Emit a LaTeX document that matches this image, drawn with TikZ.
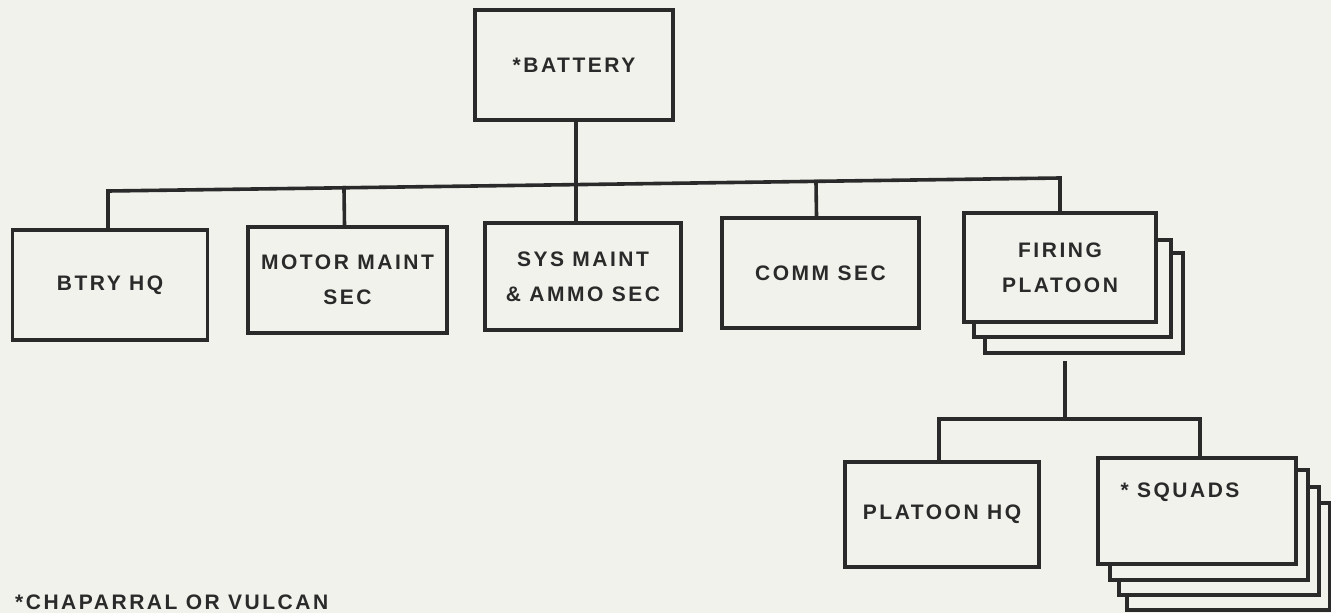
\documentclass[tikz,border=0pt]{standalone}
\usepackage{fontspec}
\setmainfont{Liberation Sans}[LetterSpace=12]
\usetikzlibrary{calc}
\definecolor{paper}{RGB}{242,242,236}
\definecolor{ink}{RGB}{42,42,42}
\begin{document}
\begin{tikzpicture}[x=1pt,y=-1pt,
  unit/.style={draw=ink, line width=3.6pt, fill=paper, inner sep=0pt,
    minimum width=197pt, minimum height=108pt, align=center,
    text=ink, font=\bfseries\fontsize{21}{35}\selectfont},
  lbl/.style={inner sep=0pt, text=ink, font=\bfseries\fontsize{21}{35}\selectfont},
  conn/.style={draw=ink, line width=3.6pt, line cap=rect, line join=miter}]
\useasboundingbox[fill=paper] (0,0) rectangle (1331,613);

% top level
\node[unit, minimum width=198pt, minimum height=110pt] (bat) at (574,65) {*BATTERY};

% second level
\node[unit, minimum width=195pt, minimum height=110pt] (btryhq) at (110,285) {BTRY HQ};
\node[unit, minimum width=199pt, minimum height=106pt] (motor) at (347.5,280) {MOTOR MAINT\\SEC};
\node[unit, minimum width=196pt, minimum height=107pt] (sys) at (583,276.5) {SYS MAINT\\\&\ AMMO SEC};
\node[unit, minimum width=197pt, minimum height=110pt] (comm) at (820.5,273) {COMM SEC};

% firing platoon stack
\node[unit, minimum width=198pt, minimum height=100pt] (fire3) at (1084,303) {};
\node[unit, minimum width=197pt, minimum height=97pt] (fire2) at (1072.5,288.5) {};
\node[unit, minimum width=192pt, minimum height=109pt] (fire) at (1060,267.5) {FIRING\\PLATOON};

% third level
\node[unit, minimum width=194pt, minimum height=105pt] (phq) at (942,514.5) {PLATOON HQ};
\node[unit, minimum width=203pt, minimum height=107pt] (sq4) at (1228.5,556.5) {};
\node[unit, minimum width=200pt, minimum height=108pt] (sq3) at (1219,541) {};
\node[unit, minimum width=198pt, minimum height=110pt] (sq2) at (1209,525) {};
\node[unit, minimum width=198pt, minimum height=106pt] (sq) at (1197,511) {};
\node[lbl] (sqtext) at (1180,492) {*\ SQUADS};

% footnote
\node[lbl, anchor=north west] (note) at (15,595) {*CHAPARRAL OR VULCAN};

% bus under battery
\coordinate (busL) at (108,191);
\coordinate (busR) at (1060,178);
\draw[conn] ([xshift=-2pt]btryhq.north) -- (busL) -- (busR) -- (fire.north);
\draw[conn] ([xshift=2pt]bat.south) -- ([xshift=2pt]bat.south |- sys.north);
\draw[conn] ([xshift=-3pt]motor.north) -- ($(busL)!([xshift=-3pt]motor.north)!(busR)$);
\draw[conn] ([xshift=-4pt]comm.north) -- ($(busL)!([xshift=-4pt]comm.north)!(busR)$);

% platoon sub-tree
\coordinate (sb) at (0,419);
\coordinate (fdrop) at ([xshift=-19pt,yshift=-8pt]fire3.south);
\draw[conn] (fdrop) -- (fdrop |- sb);
\draw[conn] ([xshift=-3pt]phq.north) -- ([xshift=-3pt]phq.north |- sb)
  -- ([xshift=3pt]sq.north |- sb) -- ([xshift=3pt]sq.north);
\end{tikzpicture}
\end{document}
